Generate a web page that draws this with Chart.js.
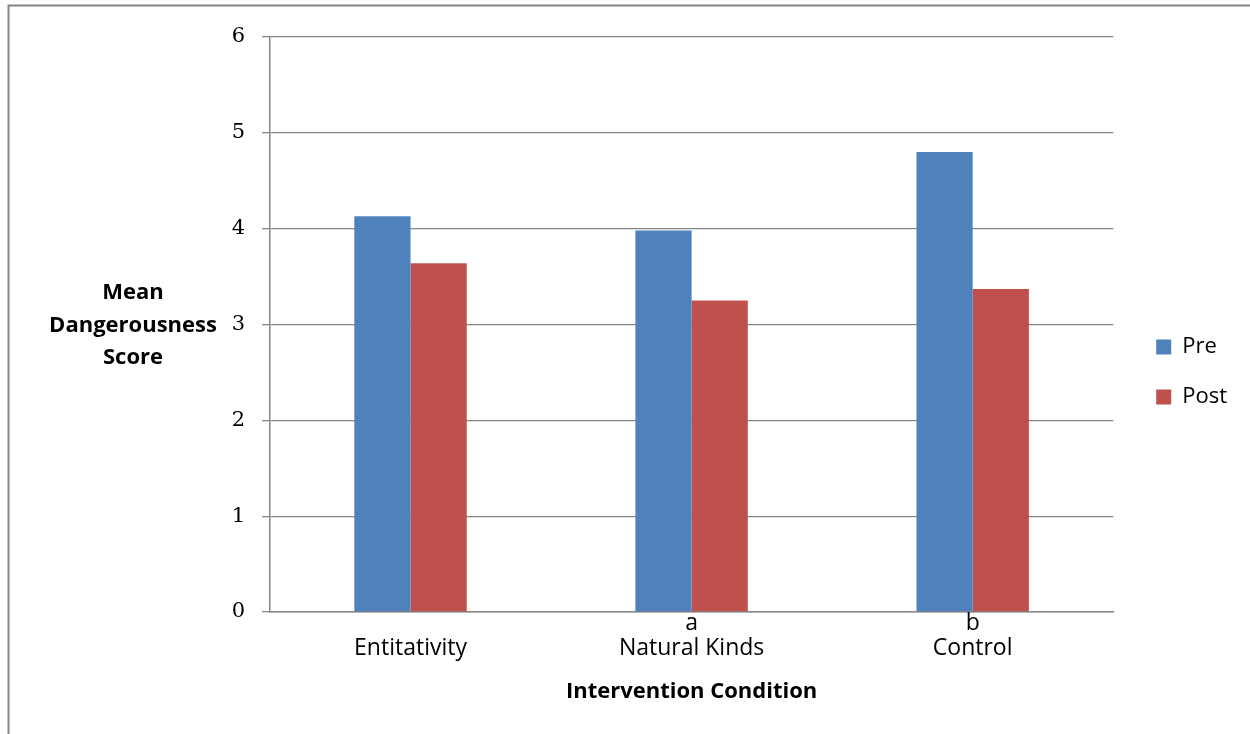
<!DOCTYPE html>
<html>
<head>
<meta charset="utf-8">
<script src="https://cdn.jsdelivr.net/npm/chart.js@4/dist/chart.umd.min.js"></script>
<style>
    html, body { margin: 0; padding: 0; background: #fff; }
    #wrap { position: relative; width: 1250px; height: 734px; }
</style>
</head>
<body>
<div id="wrap"><canvas id="chart" width="1250" height="734"></canvas></div>
<script>
// Chart data
const conditions = [['', 'Entitativity'], ['a', 'Natural Kinds'], ['b', 'Control']];
const preScores = [4.13, 3.98, 4.80];
const postScores = [3.64, 3.25, 3.37];
const seriesNames = ['Pre', 'Post'];
const yTicks = [0, 1, 2, 3, 4, 5, 6];
const yTitleLines = ['Mean', 'Dangerousness', 'Score'];
const xTitle = 'Intervention Condition';

const GRID = '#868686';
const SANS = '"Open Sans", "Liberation Sans", sans-serif';

// Frame lines (top + left) and the horizontal y axis title
const framePlugin = {
    id: 'frame',
    beforeDraw(chart) {
        const ctx = chart.ctx;
        ctx.save();
        ctx.fillStyle = '#fff';
        ctx.fillRect(0, 0, chart.width, chart.height);
        ctx.strokeStyle = GRID;
        ctx.lineWidth = 2;
        ctx.beginPath();
        ctx.moveTo(8.5, chart.height);
        ctx.lineTo(8.5, 5.5);
        ctx.lineTo(chart.width, 5.5);
        ctx.stroke();
        ctx.restore();
    },
    afterDraw(chart) {
        const ctx = chart.ctx;
        const mid = chart.scales.y.getPixelForValue(3);
        ctx.save();
        ctx.fillStyle = '#000';
        ctx.font = 'bold 22px ' + SANS;
        ctx.textAlign = 'center';
        ctx.textBaseline = 'middle';
        yTitleLines.forEach((line, i) => {
            ctx.fillText(line, 133, mid + 1 + (i - 1) * 32.5);
        });
        ctx.restore();
    }
};

const ctx = document.getElementById('chart').getContext('2d');
const chart = new Chart(ctx, {
    type: 'bar',
    data: {
        labels: conditions,
        datasets: [
            {
                label: seriesNames[0],
                data: preScores,
                backgroundColor: '#4F81BD'
            },
            {
                label: seriesNames[1],
                data: postScores,
                backgroundColor: '#C0504D'
            }
        ]
    },
    options: {
        responsive: false,
        animation: false,
        devicePixelRatio: 1,
        layout: { padding: { top: 37, bottom: 27, left: 0, right: 13 } },
        datasets: {
            bar: { categoryPercentage: 0.4, barPercentage: 1.0 }
        },
        plugins: {
            tooltip: { enabled: false },
            legend: {
                position: 'right',
                labels: {
                    color: '#000',
                    font: { family: SANS, size: 22 },
                    boxWidth: 15,
                    boxHeight: 15,
                    padding: 28
                }
            }
        },
        scales: {
            x: {
                grid: { display: false, drawTicks: false },
                border: { display: true, color: GRID, width: 1.5 },
                ticks: {
                    color: '#000',
                    font: { family: SANS, size: 23, lineHeight: 1.1 },
                    padding: -1,
                    maxRotation: 0
                },
                title: {
                    display: true,
                    text: xTitle,
                    color: '#000',
                    font: { family: SANS, size: 22, weight: 'bold', lineHeight: 1.2 },
                    padding: { top: 0, bottom: 2 }
                },
                afterFit(scale) { scale.height = 95; }
            },
            y: {
                min: 0,
                max: 6,
                afterBuildTicks(scale) { scale.ticks = yTicks.map(v => ({ value: v })); },
                grid: { color: GRID, lineWidth: 1.3, tickLength: 8 },
                border: { display: true, color: GRID, width: 1.5 },
                ticks: {
                    color: '#000',
                    font: { family: '"DejaVu Serif", serif', size: 21 },
                    padding: 17
                },
                afterFit(scale) { scale.width = 270; }
            },
            gap: {
                position: 'right',
                display: true,
                grid: { display: false },
                border: { display: false },
                ticks: { display: false },
                afterFit(scale) { scale.width = 15; }
            }
        }
    },
    plugins: [framePlugin]
});
</script>
</body>
</html>
